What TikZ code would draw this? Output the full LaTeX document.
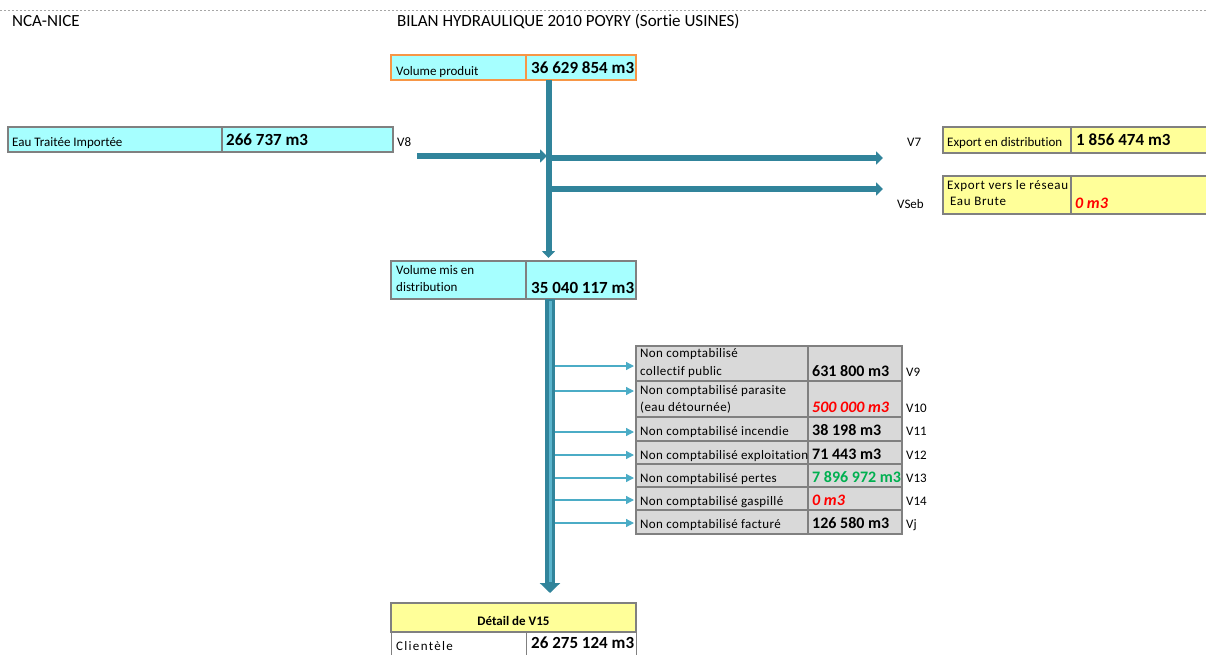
\documentclass[tikz,border=0pt]{standalone}
\usepackage{fontspec}
\setmainfont{Carlito}[Ligatures=NoCommon]
\usetikzlibrary{arrows.meta}

\definecolor{aqua}{RGB}{166,255,255}
\definecolor{paleyellow}{RGB}{255,255,153}
\definecolor{cellgray}{RGB}{217,217,217}
\definecolor{edgegray}{RGB}{128,128,128}
\definecolor{edgeorange}{RGB}{247,150,70}
\definecolor{pipeteal}{RGB}{49,132,155}
\definecolor{pipelight}{RGB}{90,180,205}
\definecolor{feedblue}{RGB}{75,172,198}
\definecolor{valred}{RGB}{255,0,0}
\definecolor{valgreen}{RGB}{0,176,80}

\tikzset{
    cellbox/.style={line width=2.5pt, draw=edgegray, inner sep=0pt, outer sep=0pt, anchor=north west},
    aquabox/.style={cellbox, fill=aqua},
    yellowbox/.style={cellbox, fill=paleyellow},
    graybox/.style={cellbox, fill=cellgray},
    head/.style={font=\fontsize{17}{20}\selectfont, anchor=base west, inner sep=0pt},
    lbl/.style={font=\fontsize{13}{17.5}\selectfont, anchor=base west, align=left, inner sep=0pt},
    tlbl/.style={lbl, font=\fontsize{13}{17.5}\selectfont\addfontfeatures{LetterSpace=3}},
    vtag/.style={font=\fontsize{13}{15}\selectfont, anchor=base west, inner sep=0pt},
    val/.style={font=\fontsize{17}{20}\selectfont\bfseries, anchor=base west, inner sep=0pt},
    tval/.style={font=\fontsize{16}{18}\selectfont\bfseries, anchor=base west, inner sep=0pt},
    tred/.style={tval, font=\fontsize{16}{18}\selectfont\bfseries\itshape, text=valred},
    tgreen/.style={tval, text=valgreen},
    pipe/.style={draw=pipeteal, line width=6pt, -{Triangle[width=13pt,length=7pt]}},
    widepipe/.style={draw=pipeteal, line width=10pt, -{Triangle[width=20pt,length=10pt]}},
    pipecore/.style={draw=pipelight, line width=3pt},
    feed/.style={draw=feedblue, line width=1.3pt, -{Triangle[width=8pt,length=8pt]}}
}

\begin{document}
\begin{tikzpicture}[x=1pt,y=-1pt]
    \useasboundingbox (0,0) rectangle (1206,655);
    \draw[edgegray!70, line width=0.8pt, dash pattern=on 2pt off 2pt] (0,10) -- (1206,10);
    \node[head] (site) at (12,27) {NCA-NICE};
    \node[head] (title) at (397,27) {BILAN HYDRAULIQUE 2010 POYRY (Sortie USINES)};

    \coordinate (axisa) at (548.5,0);
    \coordinate (axisb) at (550,0);
    \coordinate (v8in) at (417,156);
    \coordinate (v7out) at (883,158);
    \coordinate (vsebout) at (883,189);

    % cellules
    \node[aquabox, draw=edgeorange, minimum width=135pt, minimum height=25pt] (prodl) at (391,55) {};
    \node[aquabox, draw=edgeorange, minimum width=110pt, minimum height=25pt] (prodv) at (526,55) {};
    \node[lbl] (prodlt) at (396,76) {Volume produit};
    \node[val] (prodvt) at (531,74) {36 629 854 m3};

    \node[aquabox, minimum width=214pt, minimum height=25pt] (impl) at (8,127) {};
    \node[aquabox, minimum width=171pt, minimum height=25pt] (impv) at (222,127) {};
    \node[lbl] (implt) at (12,147) {Eau Traitée Importée};
    \node[val] (impvt) at (226,146) {266 737 m3};
    \node[vtag] (v8) at (397,147) {V8};

    \node[yellowbox, minimum width=128pt, minimum height=26pt] (expl) at (943,127) {};
    \node[yellowbox, minimum width=140pt, minimum height=26pt] (expv) at (1071,127) {};
    \node[lbl] (explt) at (947,147) {Export en distribution};
    \node[val] (expvt) at (1076,146) {1 856 474 m3};
    \node[vtag] (v7) at (907,147) {V7};

    \node[yellowbox, minimum width=128pt, minimum height=38pt] (ebl) at (943,176) {};
    \node[yellowbox, minimum width=140pt, minimum height=38pt] (ebv) at (1071,176) {};
    \node[lbl, font=\fontsize{13}{16.5}\selectfont\addfontfeatures{LetterSpace=5}] (eblt) at (947,205.5) {Export vers le réseau\\\hspace{3pt}Eau Brute};
    \node[tred] (ebvt) at (1075,208) {0 m3};
    \node[vtag] (vseb) at (897,208) {VSeb};

    \node[aquabox, minimum width=135pt, minimum height=38pt] (distl) at (391,261) {};
    \node[aquabox, minimum width=110pt, minimum height=38pt] (distv) at (526,261) {};
    \node[lbl] (distlt) at (396,291.5) {Volume mis en\\distribution};
    \node[val] (distvt) at (531,293) {35 040 117 m3};

    \foreach \n/\ry/\rh/\lb/\vb/\txt/\amount/\sty/\vname in {
        r1/346/35/375/376/{Non comptabilisé\\collectif public}/{631 800 m3}/tval/V9,
        r2/381/36/411.5/412.5/{Non comptabilisé parasite\\(eau détournée)}/{500 000 m3}/tred/V10,
        r3/417/24/435/435/{Non comptabilisé incendie}/{38 198 m3}/tval/V11,
        r4/441/23/459/459/{Non comptabilisé exploitation}/{71 443 m3}/tval/V12,
        r5/464/23/482.5/482.5/{Non comptabilisé pertes}/{7 896 972 m3}/tgreen/V13,
        r6/487/23/505/505/{Non comptabilisé gaspillé}/{0 m3}/tred/V14,
        r7/510/24/528/528/{Non comptabilisé facturé}/{126 580 m3}/tval/Vj}{
        \node[graybox, minimum width=172pt, minimum height=\rh pt] (\n-l) at (636,\ry) {};
        \node[graybox, minimum width=94pt, minimum height=\rh pt] (\n-v) at (808,\ry) {};
        \node[tlbl] (\n-lt) at (640,\lb) {\txt};
        \node[\sty] (\n-vt) at (812,\vb) {\amount};
        \node[vtag] (\n-tag) at (906,\vb) {\vname};
    }

    \node[yellowbox, minimum width=245pt, minimum height=29pt] (detail) at (391,603) {};
    \node[lbl, font=\fontsize{13}{15}\selectfont\bfseries, anchor=base] (detailt) at (513.5,625) {Détail de V15};
    \node[cellbox, line width=1pt, fill=white, minimum width=135pt, minimum height=28pt] (clil) at (391,632) {};
    \node[cellbox, line width=1pt, fill=white, minimum width=110pt, minimum height=28pt] (cliv) at (526,632) {};
    \node[lbl, font=\fontsize{13}{15}\selectfont\addfontfeatures{LetterSpace=10}] (clilt) at (396,650) {Clientèle};
    \node[val] (clivt) at (531,648) {26 275 124 m3};

    % fleches
    \foreach \n/\ay in {r1/366, r2/391, r3/432, r4/455, r5/478, r6/500, r7/523}
        \draw[feed, shorten >=2pt] (axisb |- 0,\ay) -- (\n-l.west |- 0,\ay);

    \draw[pipe, shorten >=3pt] (axisa |- prodv.south) -- (axisa |- distv.north);
    \draw[widepipe, shorten >=10pt] (axisb |- distv.south) -- (axisb |- detail.north);
    \draw[pipecore, shorten <=2pt, shorten >=21pt] (axisb |- distv.south) -- (axisb |- detail.north);
    \draw[pipe, shorten >=1.5pt] (v8in) -- (axisa |- v8in);
    \draw[pipe, shorten <=3pt] (axisa |- v7out) -- (v7out);
    \draw[pipe, shorten <=3pt] (axisa |- vsebout) -- (vsebout);
\end{tikzpicture}
\end{document}
